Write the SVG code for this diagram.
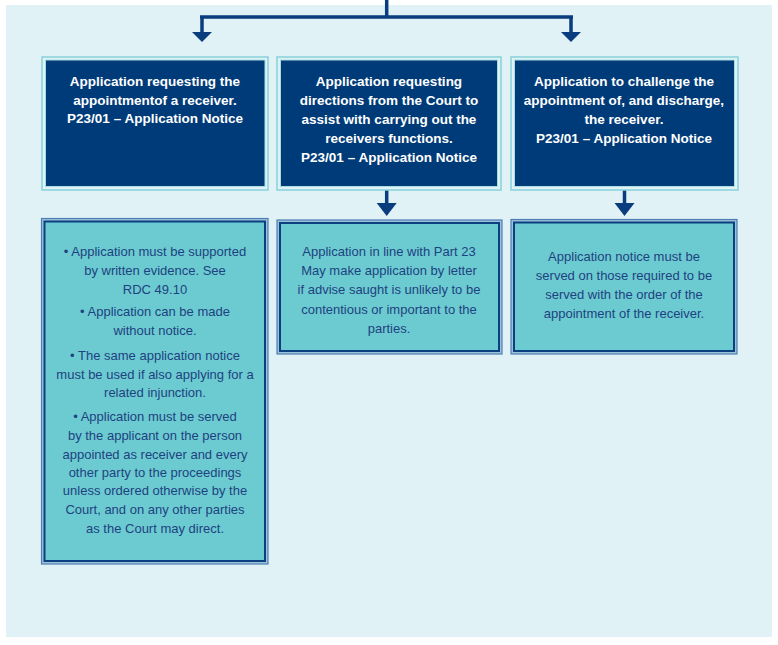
<svg xmlns="http://www.w3.org/2000/svg" width="778" height="645" viewBox="0 0 778 645">
<defs>
<style>
.bg{fill:#E0F2F6}
.topOuter{fill:#E0F2F6;stroke:#86D1D9;stroke-width:1.5}
.topInner{fill:#003B79;stroke:#A6DDE3;stroke-width:1}
.botOuter{fill:#9CC3DA;stroke:#4D7DB3;stroke-width:1.2}
.botInner{fill:#6CCBD1;stroke:#0B3F80;stroke-width:2}
.conn{fill:none;stroke:#0A3D7D;stroke-width:3.5}
.head{fill:#0A3D7D}
.tt{font-family:"Liberation Sans",Arial,sans-serif;font-weight:bold;font-size:13.5px;fill:#FFFFFF;text-anchor:middle}
.bt{font-family:"Liberation Sans",Arial,sans-serif;font-size:13px;fill:#1E4280;text-anchor:middle}
</style>
</defs>
<rect class="bg" x="6" y="5" width="766" height="632"/>

<g id="connectors">
<path class="conn" d="M386.7,0 V17 M200,17 H573 M202,17 V33 M571,17 V33 M386.7,190 V205 M624.5,190 V205"/>
<polygon class="head" points="192,32 212,32 202,42"/>
<polygon class="head" points="561,32 581,32 571,42"/>
<polygon class="head" points="376.7,203 396.7,203 386.7,216"/>
<polygon class="head" points="614.5,203 634.5,203 624.5,216"/>
</g>

<g id="top-left">
<rect class="topOuter" x="42" y="57" width="226" height="133"/>
<rect class="topInner" x="45.5" y="60" width="219.5" height="126.5"/>
<text class="tt" x="155" y="85.5">Application requesting the</text>
<text class="tt" x="155" y="104.5">appointmentof a receiver.</text>
<text class="tt" x="155" y="123">P23/01 – Application Notice</text>
</g>

<g id="top-middle">
<rect class="topOuter" x="277" y="57" width="224" height="133"/>
<rect class="topInner" x="280.5" y="60" width="217" height="126.5"/>
<text class="tt" x="389" y="85.5">Application requesting</text>
<text class="tt" x="389" y="104.5">directions from the Court to</text>
<text class="tt" x="389" y="123.5">assist with carrying out the</text>
<text class="tt" x="389" y="143">receivers functions.</text>
<text class="tt" x="389" y="162">P23/01 – Application Notice</text>
</g>

<g id="top-right">
<rect class="topOuter" x="511" y="57" width="227" height="133"/>
<rect class="topInner" x="514.5" y="60" width="220" height="126.5"/>
<text class="tt" x="624" y="85.5">Application to challenge the</text>
<text class="tt" x="624" y="104.5">appointment of, and discharge,</text>
<text class="tt" x="624" y="123.5">the receiver.</text>
<text class="tt" x="624" y="143">P23/01 – Application Notice</text>
</g>

<g id="bottom-left">
<rect class="botOuter" x="41.5" y="218.5" width="226.5" height="345.5"/>
<rect class="botInner" x="44.5" y="221.5" width="220.5" height="339.5"/>
<text class="bt" x="155" y="256">• Application must be supported</text>
<text class="bt" x="155" y="275">by written evidence. See</text>
<text class="bt" x="155" y="293.5">RDC 49.10</text>
<text class="bt" x="155" y="316">• Application can be made</text>
<text class="bt" x="155" y="335">without notice.</text>
<text class="bt" x="155" y="360">• The same application notice</text>
<text class="bt" x="155" y="378.5">must be used if also applying for a</text>
<text class="bt" x="155" y="397">related injunction.</text>
<text class="bt" x="155" y="420.5">• Application must be served</text>
<text class="bt" x="155" y="439.5">by the applicant on the person</text>
<text class="bt" x="155" y="458.5">appointed as receiver and every</text>
<text class="bt" x="155" y="477">other party to the proceedings</text>
<text class="bt" x="155" y="495">unless ordered otherwise by the</text>
<text class="bt" x="155" y="514">Court, and on any other parties</text>
<text class="bt" x="155" y="532.5">as the Court may direct.</text>
</g>

<g id="bottom-middle">
<rect class="botOuter" x="277" y="220" width="225" height="134"/>
<rect class="botInner" x="280" y="223" width="219" height="128"/>
<text class="bt" x="389" y="256">Application in line with Part 23</text>
<text class="bt" x="389" y="275">May make application by letter</text>
<text class="bt" x="389" y="294">if advise saught is unlikely to be</text>
<text class="bt" x="389" y="313.5">contentious or important to the</text>
<text class="bt" x="389" y="332.5">parties.</text>
</g>

<g id="bottom-right">
<rect class="botOuter" x="511" y="219.5" width="226" height="134.5"/>
<rect class="botInner" x="514" y="222.5" width="220" height="128.5"/>
<text class="bt" x="624" y="261">Application notice must be</text>
<text class="bt" x="624" y="280">served on those required to be</text>
<text class="bt" x="624" y="298.5">served with the order of the</text>
<text class="bt" x="624" y="318">appointment of the receiver.</text>
</g>
</svg>
